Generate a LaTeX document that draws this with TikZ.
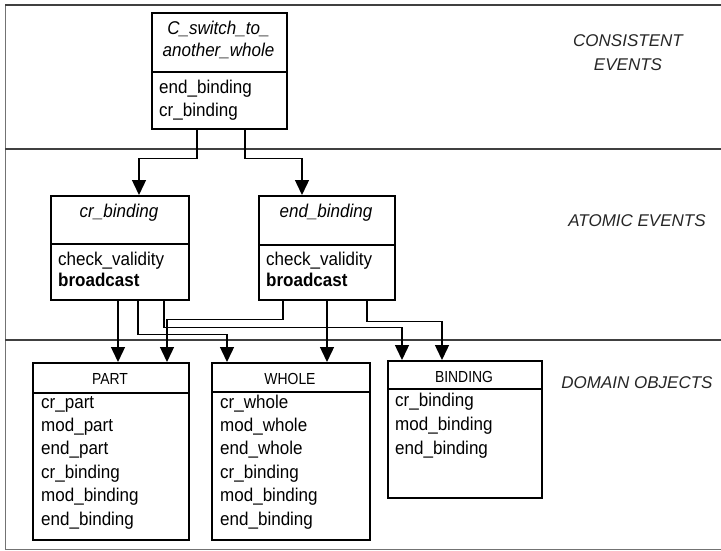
\documentclass[tikz,border=0pt]{standalone}
\usepackage{fontspec}
\setmainfont{Liberation Sans}
\newfontfamily\itemfont[FakeStretch=0.92]{Liberation Sans}
\newfontfamily\headfont[FakeStretch=0.87]{Liberation Sans}
\usetikzlibrary{arrows.meta}
\begin{document}
\begin{tikzpicture}[x=1pt,y=-1pt,
  box/.style={draw, line width=1.5pt, inner sep=0pt, anchor=north west},
  item/.style={anchor=base west, inner sep=0pt, font=\itemfont\fontsize{18.5}{21}\selectfont},
  ititle/.style={anchor=base, inner sep=0pt, font=\itemfont\fontsize{18.5}{21}\selectfont\itshape},
  ctitle/.style={anchor=base, inner sep=0pt, font=\headfont\fontsize{16}{19}\selectfont},
  layer/.style={anchor=base, inner sep=0pt, font=\fontsize{17}{20}\selectfont\itshape, text=black!85},
  link/.style={line width=1.4pt, -{Triangle[length=15pt,width=14pt]}},
  sep/.style={line width=1.6pt, black!75},
  rule/.style={line width=1.5pt},
]
\useasboundingbox (0,0) rectangle (721,550);

% frame and layer separators
\draw[black!55, line width=0.8pt] (5,5) -- (5,549) -- (721,549);
\draw[sep] (5,5) -- (721,5);
\draw[sep] (5,149) -- (721,149);
\draw[sep] (5,340) -- (721,340);

% layer names
\node[layer] (lc1) at (628,46) {CONSISTENT};
\node[layer] (lc2) at (628,70) {EVENTS};
\node[layer] (la) at (637,226) {ATOMIC EVENTS};
\node[layer] (ld) at (637,388) {DOMAIN OBJECTS};

% consistent event
\node[box, minimum width=135pt, minimum height=116pt] (cse) at (151,12) {};
\draw[rule] (151,72) -- (286,72);
\node[ititle] (cset1) at (218.5,34) {C\_switch\_to\_};
\node[ititle] (cset2) at (218.5,56) {another\_whole};
\node[item] (csei1) at (159,93) {end\_binding};
\node[item] (csei2) at (159,116) {cr\_binding};

% atomic events
\node[box, minimum width=138pt, minimum height=104pt] (crb) at (50,195) {};
\draw[rule] (50,244) -- (188,244);
\node[ititle] (crbt) at (119,217) {cr\_binding};
\node[item] (crbi1) at (58,265) {check\_validity};
\node[item] (crbi2) at (58,286) {\bfseries broadcast};

\node[box, minimum width=136pt, minimum height=104pt] (endb) at (258,195) {};
\draw[rule] (258,245) -- (394,245);
\node[ititle] (endbt) at (326,217) {end\_binding};
\node[item] (endbi1) at (266,265) {check\_validity};
\node[item] (endbi2) at (266,286) {\bfseries broadcast};

% domain objects
\node[box, minimum width=156pt, minimum height=177pt] (part) at (32,362) {};
\draw[rule] (32,393) -- (188,393);
\node[ctitle] (partt) at (110,384) {PART};
\foreach \t [count=\i from 0] in {cr\_part, mod\_part, end\_part, cr\_binding, mod\_binding, end\_binding}
  \node[item] (parti\i) at (41,408+23.4*\i) {\t};

\node[box, minimum width=158pt, minimum height=177pt] (whole) at (211,362) {};
\draw[rule] (211,392) -- (369,392);
\node[ctitle] (wholet) at (290,384) {WHOLE};
\foreach \t [count=\i from 0] in {cr\_whole, mod\_whole, end\_whole, cr\_binding, mod\_binding, end\_binding}
  \node[item] (wholei\i) at (220,408+23.4*\i) {\t};

\node[box, minimum width=154pt, minimum height=137pt] (binding) at (387,360) {};
\draw[rule] (387,389) -- (541,389);
\node[ctitle] (bindingt) at (464,382) {BINDING};
\foreach \t [count=\i from 0] in {cr\_binding, mod\_binding, end\_binding}
  \node[item] (bindingi\i) at (395,406+24*\i) {\t};

% consistent event -> atomic events
\draw[link] ([xshift=46pt]cse.south west) -- ++(0,29) -| ([xshift=89pt]crb.north west);
\draw[link] ([xshift=94pt]cse.south west) -- ++(0,29) -| ([xshift=44pt]endb.north west);

% atomic events -> domain objects
\draw[link] ([xshift=68pt]crb.south west) -- ([xshift=86pt]part.north west);
\draw[link] ([xshift=88pt]crb.south west) -- ++(0,34) -| ([xshift=16pt]whole.north west);
\draw[link] ([xshift=114pt]crb.south west) -- ++(0,27) -| ([xshift=15pt]binding.north west);
\draw[link] ([xshift=25pt]endb.south west) -- ++(0,19) -| ([xshift=135pt]part.north west);
\draw[link] ([xshift=69pt]endb.south west) -- ([xshift=116pt]whole.north west);
\draw[link] ([xshift=109pt]endb.south west) -- ++(0,21) -| ([xshift=55pt]binding.north west);
\end{tikzpicture}
\end{document}
